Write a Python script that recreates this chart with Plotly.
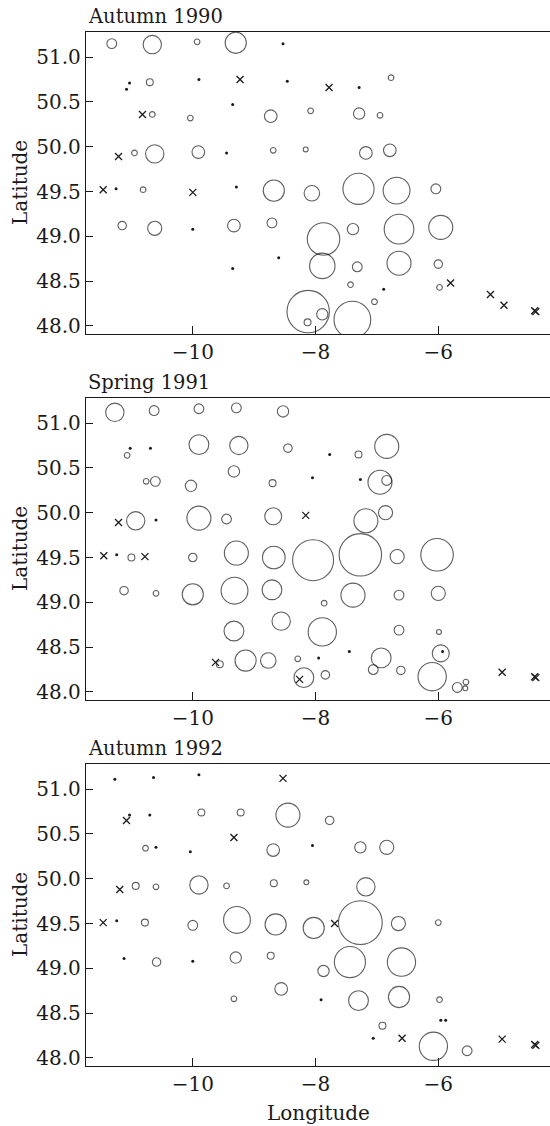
import plotly.graph_objects as go

seasons = ["Autumn 1990", "Spring 1991", "Autumn 1992"]
x_ticks = [-10, -8, -6]
y_ticks = [48.0, 48.5, 49.0, 49.5, 50.0, 50.5, 51.0]

# ---------------- Autumn 1990 ----------------
a90_lon = [-11.32, -10.66, -9.93, -9.30, -10.70, -6.77, -10.66, -10.04, -8.73, -8.08, -7.29, -6.95,
           -10.95, -10.62, -9.91, -8.69, -8.16, -7.18, -6.79, -10.81, -8.68, -8.06, -7.30, -6.68, -6.04,
           -11.15, -10.62, -9.33, -8.71, -7.87, -7.39, -6.64, -5.96, -7.89, -7.32, -6.64, -6.00,
           -7.43, -5.98, -7.04, -8.12, -8.13, -7.89, -7.40]
a90_lat = [51.15, 51.14, 51.17, 51.16, 50.72, 50.77, 50.36, 50.32, 50.34, 50.40, 50.37, 50.35,
           49.93, 49.92, 49.94, 49.96, 49.97, 49.93, 49.96, 49.52, 49.51, 49.48, 49.53, 49.51, 49.53,
           49.12, 49.09, 49.12, 49.15, 48.97, 49.08, 49.08, 49.10, 48.67, 48.66, 48.70, 48.69,
           48.46, 48.43, 48.27, 48.16, 48.04, 48.13, 48.07]
a90_catch = [12, 42, 4, 56, 6, 4, 4, 4, 20, 4, 16, 4,
             4, 42, 20, 4, 3, 20, 20, 4, 56, 30, 121, 90, 12,
             9, 25, 20, 12, 132, 16, 110, 72, 81, 12, 72, 9,
             4, 4, 4, 225, 6, 16, 169]
a90_dot_lon = [-8.53, -11.03, -11.08, -9.90, -8.46, -7.29, -9.35, -9.45, -11.25, -9.29, -10.00, -9.35, -8.60, -6.89]
a90_dot_lat = [51.15, 50.71, 50.64, 50.75, 50.73, 50.66, 50.47, 49.93, 49.53, 49.55, 49.08, 48.64, 48.76, 48.41]
a90_x_lon = [-9.23, -7.78, -10.82, -11.21, -11.46, -10.00, -5.80, -5.15, -4.93, -4.43, -4.41]
a90_x_lat = [50.75, 50.66, 50.36, 49.89, 49.52, 49.49, 48.48, 48.35, 48.23, 48.17, 48.16]

# ---------------- Spring 1991 ----------------
s91_lon = [-11.27, -10.63, -9.90, -9.29, -8.53, -11.07, -9.90, -9.25, -8.45, -7.30, -6.84,
           -10.76, -10.61, -10.03, -9.33, -8.70, -6.95, -6.84,
           -10.93, -9.90, -9.45, -8.69, -7.18, -6.86,
           -11.00, -10.00, -9.29, -8.68, -8.04, -7.27, -6.67, -6.02,
           -11.12, -10.60, -10.00, -9.32, -8.71, -7.86, -7.39, -6.64, -6.00,
           -9.33, -8.56, -7.89, -6.64, -5.99,
           -9.56, -9.14, -8.77, -8.29, -6.93, -7.06, -6.61, -5.96,
           -8.19, -7.84, -6.10, -5.69, -5.55, -5.56]
s91_lat = [51.12, 51.14, 51.16, 51.17, 51.13, 50.64, 50.76, 50.75, 50.72, 50.65, 50.74,
           50.35, 50.35, 50.30, 50.46, 50.33, 50.34, 50.36,
           49.91, 49.94, 49.93, 49.96, 49.91, 50.00,
           49.50, 49.50, 49.55, 49.50, 49.47, 49.53, 49.51, 49.53,
           49.13, 49.10, 49.09, 49.13, 49.14, 48.99, 49.08, 49.08, 49.10,
           48.68, 48.79, 48.67, 48.69, 48.67,
           48.31, 48.35, 48.35, 48.37, 48.38, 48.25, 48.24, 48.43,
           48.16, 48.19, 48.17, 48.05, 48.11, 48.04]
s91_catch = [42, 12, 12, 12, 16, 4, 49, 42, 9, 6, 72,
             4, 12, 16, 16, 6, 72, 12,
             42, 72, 12, 36, 72, 25,
             6, 9, 72, 64, 210, 225, 25, 132,
             9, 4, 56, 90, 49, 4, 72, 12, 25,
             49, 42, 100, 12, 3,
             6, 56, 30, 4, 49, 12, 9, 36,
             49, 9, 100, 12, 4, 3]
s91_dot_lon = [-11.02, -10.69, -7.77, -8.05, -7.27, -10.60, -11.24, -7.95, -7.45, -5.93]
s91_dot_lat = [50.72, 50.72, 50.65, 50.39, 50.37, 49.92, 49.53, 48.38, 48.45, 48.45]
s91_x_lon = [-11.21, -8.16, -11.45, -10.78, -9.63, -8.26, -4.96, -4.43, -4.41]
s91_x_lat = [49.89, 49.97, 49.52, 49.51, 48.33, 48.14, 48.22, 48.17, 48.16]

# ---------------- Autumn 1992 ----------------
a92_lon = [-9.86, -9.22, -8.45, -7.77, -10.77, -8.69, -7.27, -6.84,
           -10.93, -10.60, -9.90, -9.45, -8.68, -8.15, -7.18,
           -10.78, -10.00, -9.28, -8.65, -8.03, -7.27, -6.65, -6.00,
           -10.59, -9.30, -8.73, -7.87, -7.44, -6.60,
           -9.33, -8.56, -7.30, -6.64, -5.98,
           -6.91, -6.08, -5.53]
a92_lat = [50.74, 50.74, 50.71, 50.65, 50.34, 50.32, 50.35, 50.35,
           49.92, 49.91, 49.93, 49.92, 49.95, 49.96, 49.91,
           49.51, 49.48, 49.54, 49.49, 49.45, 49.51, 49.50, 49.51,
           49.07, 49.12, 49.14, 48.97, 49.07, 49.07,
           48.66, 48.77, 48.64, 48.68, 48.65,
           48.36, 48.13, 48.08]
a92_catch = [6, 6, 72, 9, 4, 20, 16, 25,
             6, 4, 42, 4, 6, 3, 42,
             6, 12, 90, 56, 56, 240, 25, 4,
             9, 16, 6, 16, 121, 100,
             4, 20, 49, 56, 4,
             6, 100, 12]
a92_dot_lon = [-11.27, -10.64, -9.90, -11.03, -10.70, -10.60, -10.04, -8.05, -11.24, -11.12, -10.00, -7.91, -5.96, -5.88, -7.06]
a92_dot_lat = [51.11, 51.13, 51.16, 50.71, 50.71, 50.35, 50.30, 50.37, 49.53, 49.11, 49.08, 48.65, 48.42, 48.42, 48.22]
a92_x_lon = [-8.53, -11.08, -9.33, -11.19, -11.46, -7.69, -6.59, -4.96, -4.43, -4.41]
a92_x_lat = [51.12, 50.65, 50.46, 49.88, 49.51, 49.50, 48.22, 48.21, 48.15, 48.14]

panels = [
    (a90_lon, a90_lat, a90_catch, a90_dot_lon, a90_dot_lat, a90_x_lon, a90_x_lat),
    (s91_lon, s91_lat, s91_catch, s91_dot_lon, s91_dot_lat, s91_x_lon, s91_x_lat),
    (a92_lon, a92_lat, a92_catch, a92_dot_lon, a92_dot_lat, a92_x_lon, a92_x_lat),
]

W, H = 550, 1126
ML, MR, MT, MB = 86, 0, 32, 60
plot_h = H - MT - MB
panel_h = 302
gap = 64
domains = []
for i in range(3):
    top = i * (panel_h + gap)
    bot = top + panel_h
    domains.append([1 - bot / plot_h, 1 - top / plot_h])

FONT = "DejaVu Serif"
INK = "#1a1a1a"
fig = go.Figure()

for i, (clon, clat, catch, dlon, dlat, xlon, xlat) in enumerate(panels):
    xa = "x" if i == 0 else f"x{i+1}"
    ya = "y" if i == 0 else f"y{i+1}"
    fig.add_trace(go.Scatter(
        x=clon, y=clat, mode="markers", xaxis=xa, yaxis=ya, showlegend=False,
        marker=dict(symbol="circle-open", size=catch, sizemode="area", sizeref=0.25,
                    color=INK, line=dict(width=1.1))))
    fig.add_trace(go.Scatter(
        x=dlon, y=dlat, mode="markers", xaxis=xa, yaxis=ya, showlegend=False,
        marker=dict(symbol="circle", size=3, color=INK, line=dict(width=0))))
    fig.add_trace(go.Scatter(
        x=xlon, y=xlat, mode="markers", xaxis=xa, yaxis=ya, showlegend=False,
        marker=dict(symbol="x-thin-open", size=7, color=INK, line=dict(width=1.3, color=INK))))

axis_common = dict(showgrid=False, zeroline=False, showline=True, linecolor=INK, linewidth=1.3,
                   ticks="inside", tickcolor=INK, tickwidth=1.2,
                   tickfont=dict(family=FONT, size=20, color=INK))

layout = dict(width=W, height=H, margin=dict(l=ML, r=MR, t=MT, b=MB),
              paper_bgcolor="white", plot_bgcolor="white", showlegend=False)

annotations = []
for i in range(3):
    xk = "xaxis" if i == 0 else f"xaxis{i+1}"
    yk = "yaxis" if i == 0 else f"yaxis{i+1}"
    xa = "x" if i == 0 else f"x{i+1}"
    ya = "y" if i == 0 else f"y{i+1}"
    layout[xk] = dict(axis_common, domain=[0, 1], anchor=ya, range=[-11.74, -4.18],
                      tickvals=x_ticks, ticklen=8, mirror=True)
    layout[yk] = dict(axis_common, domain=domains[i], anchor=xa, range=[47.91, 51.28],
                      tickvals=y_ticks, tickformat=".1f", ticklen=7, mirror=False)
    annotations.append(dict(text=seasons[i], xref="paper", yref="paper", x=0, y=domains[i][1],
                            xanchor="left", yanchor="bottom", yshift=2, showarrow=False,
                            font=dict(family=FONT, size=19.5, color=INK)))
    annotations.append(dict(text="Latitude", xref="paper", yref="paper", x=(20 - ML) / (W - ML - MR),
                            y=(domains[i][0] + domains[i][1]) / 2, xanchor="center", yanchor="middle",
                            textangle=-90, showarrow=False, font=dict(family=FONT, size=20, color=INK)))
annotations.append(dict(text="Longitude", xref="paper", yref="paper", x=0.5, y=0, yshift=-47,
                        xanchor="center", yanchor="middle", showarrow=False,
                        font=dict(family=FONT, size=20, color=INK)))
layout["annotations"] = annotations
fig.update_layout(**layout)

# remove the browser's default 8px body margin so the figure fills the window exactly
fig.write_html("out.html", config={"displayModeBar": False},
               post_script="document.body.style.margin='0px';")
